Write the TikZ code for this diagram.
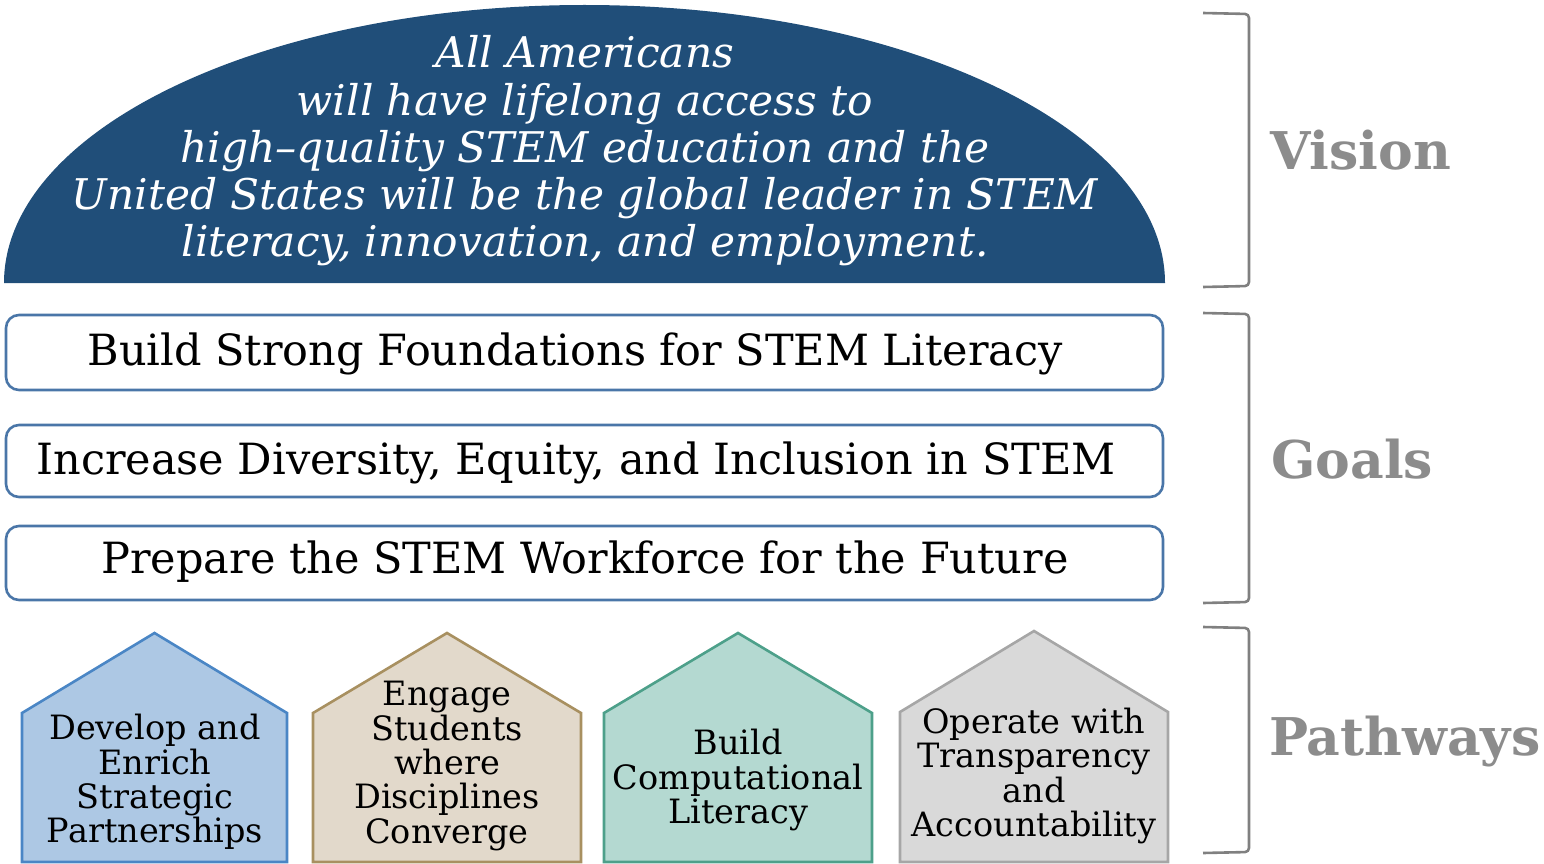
\documentclass[tikz,border=0pt]{standalone}
\usepackage{fontspec}
\setmainfont{DejaVu Serif}
\begin{document}
\begin{tikzpicture}[x=1pt,y=-1pt,
  visionfill/.style={fill=domeblue},
  goalbox/.style={draw=goalline,line width=2.6pt,rounded corners=13pt,fill=white},
  goaltext/.style={font=\fontsize{43}{46}\selectfont,text=black},
  pathtext/.style={font=\fontsize{33.5}{34.4}\selectfont,align=center,text=black,inner sep=0pt},
  bracketline/.style={draw=bracketgray,line width=2.6pt,rounded corners=4pt},
  sidelabel/.style={font=\bfseries\fontsize{52}{54}\selectfont,text=labelgray,anchor=west,inner sep=0pt},
  house/.style={line width=2.6pt,line join=miter}
]
\definecolor{domeblue}{RGB}{32,78,121}
\definecolor{goalline}{RGB}{74,118,168}
\definecolor{bracketgray}{RGB}{128,128,128}
\definecolor{labelgray}{RGB}{140,140,140}
\definecolor{p1fill}{RGB}{173,200,228}\definecolor{p1line}{RGB}{74,134,197}
\definecolor{p2fill}{RGB}{226,217,203}\definecolor{p2line}{RGB}{168,144,96}
\definecolor{p3fill}{RGB}{180,217,209}\definecolor{p3line}{RGB}{77,160,138}
\definecolor{p4fill}{RGB}{217,217,217}\definecolor{p4line}{RGB}{166,166,166}

\useasboundingbox (0,0) rectangle (1544,864);

% vision dome
\fill[visionfill] (4,283) arc[start angle=180,end angle=0,x radius=580.5,y radius=-278] -- cycle;
\node[text=white,align=center,font=\itshape\fontsize{42.3}{47.3}\selectfont,inner sep=0pt] (vision) at (585,151)
 {All Americans\\will have lifelong access to\\high–quality STEM education and the\\United States will be the global leader in STEM\\literacy, innovation, and employment.};

% goals
\draw[goalbox] (6,315) rectangle (1163,390);
\node[goaltext] (goal1) at (575,354) {Build Strong Foundations for STEM Literacy};
\draw[goalbox] (6,425) rectangle (1163,497);
\node[goaltext] (goal2) at (576,463) {Increase Diversity, Equity, and Inclusion in STEM};
\draw[goalbox] (6,526) rectangle (1163,600);
\node[goaltext] (goal3) at (585,562) {Prepare the STEM Workforce for the Future};

% pathways
\filldraw[house,fill=p1fill,draw=p1line] (22,862) -- (22,713) -- (154.5,633) -- (287,713) -- (287,862) -- cycle;
\node[pathtext] (path1) at (155,782) {Develop and\\Enrich\\Strategic\\Partnerships};
\filldraw[house,fill=p2fill,draw=p2line] (313,862) -- (313,713) -- (447,633) -- (581,713) -- (581,862) -- cycle;
\node[pathtext] (path2) at (447,766) {Engage\\Students\\where\\Disciplines\\Converge};
\filldraw[house,fill=p3fill,draw=p3line] (604,862) -- (604,713) -- (738,633) -- (872,713) -- (872,862) -- cycle;
\node[pathtext] (path3) at (738,780) {Build\\Computational\\Literacy};
\filldraw[house,fill=p4fill,draw=p4line] (900,862) -- (900,712) -- (1034,631) -- (1168,712) -- (1168,862) -- cycle;
\node[pathtext] (path4) at (1034,776) {Operate with\\Transparency\\and\\Accountability};

% brackets and labels
\draw[bracketline] (1203,13) -- (1249,14) -- (1249,286) -- (1203,287);
\node[sidelabel] (lvision) at (1270,150) {Vision};
\draw[bracketline] (1203,313) -- (1249,314) -- (1249,602) -- (1203,603);
\node[sidelabel] (lgoals) at (1271,459) {Goals};
\draw[bracketline] (1203,627) -- (1249,628) -- (1249,852) -- (1203,853);
\node[sidelabel] (lpath) at (1269,742) {Pathways};
\end{tikzpicture}
\end{document}
